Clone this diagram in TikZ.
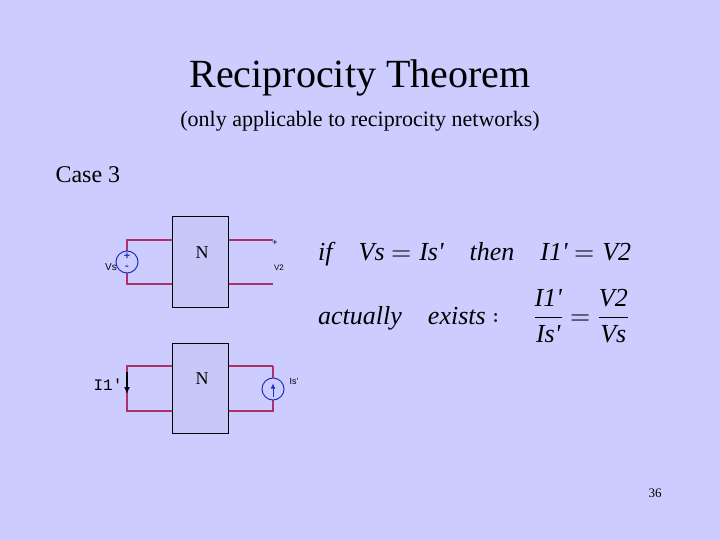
\documentclass[tikz,border=0pt]{standalone}
\usetikzlibrary{arrows.meta}
\usepackage{fontspec}
\setmainfont{Liberation Serif}
\setmonofont{Liberation Mono}
\setsansfont{Liberation Sans}
\newfontfamily\plainit[Ligatures=ResetAll]{Liberation Serif Italic}
\usepackage{unicode-math}
\setmathfont{Latin Modern Math}
\setmathfont[range={it/{latin,Latin},up/{num}}]{Liberation Serif Italic}
\newcommand{\pr}{\mbox{\plainit '}}
\begin{document}
\begin{tikzpicture}[x=1pt,y=-1pt,
  wire/.style={draw=wirec,line width=1.2pt},
  box/.style={draw=black,line width=1pt,fill=boxc},
  src/.style={draw=srcc,line width=1pt,fill=bgc},
  lbl/.style={font=\sffamily\fontsize{9}{10}\selectfont,inner sep=0pt}]
\definecolor{bgc}{HTML}{CCCCFF}
\definecolor{boxc}{HTML}{C8C8F8}
\definecolor{wirec}{HTML}{B0306A}
\definecolor{srcc}{HTML}{2030C0}
\fill[bgc] (0,0) rectangle (720,540);
\useasboundingbox (0,0) rectangle (720,540);
\node (title) at (360,78) {\fontsize{40}{44}\selectfont Reciprocity Theorem};
\node (sub) at (360,121) {\fontsize{22}{26}\selectfont (only applicable to reciprocity networks)};
\node[anchor=west] (case) at (52,175) {\fontsize{24}{28}\selectfont Case 3};
% top circuit
\coordinate (a1) at (127,240); \coordinate (a2) at (127,284);
\coordinate (b1) at (273,240); \coordinate (b2) at (273,284);
\draw[wire] (b1) -- (a1) -- (a2) -- (b2);
\node[box,minimum width=56,minimum height=90,inner sep=0pt] (N1) at (200,262) {};
\node[font=\fontsize{18}{20}\selectfont] (n1) at (202,253) {N};
\node[src,circle,minimum size=22,inner sep=0pt] (vs) at (127,262) {};
\node[font=\sffamily\bfseries\fontsize{11}{11}\selectfont,text=srcc,inner sep=0pt] (vp) at (127,256) {+};
\node[font=\sffamily\bfseries\fontsize{11}{11}\selectfont,text=srcc,inner sep=0pt] (vm) at (127,268) {-};
\node[lbl,font=\sffamily\fontsize{10}{10}\selectfont] (vsl) at (111,267) {Vs};
\node[lbl] (pl) at (275,243) {+};
\node[lbl,font=\sffamily\fontsize{8}{8}\selectfont] (v2) at (279,268) {V2};
% bottom circuit
\coordinate (c1) at (127,366); \coordinate (c2) at (127,411);
\coordinate (d1) at (273,366); \coordinate (d2) at (273,411);
\draw[wire] (d1) -- (c1) -- (c2) -- (d2) -- (d1);
\node[box,minimum width=56,minimum height=90,inner sep=0pt] (N2) at (200,388) {};
\node[font=\fontsize{18}{20}\selectfont] (n2) at (202,379) {N};
\node[src,circle,minimum size=22,inner sep=0pt] (is) at (273,389) {};
\draw[srcc,line width=1pt,-{Latex[length=5pt,width=5pt]}] (is.south) ++(0,-4) -- ++(0,-13);
\node[lbl] (isl) at (294,381) {Is'};
\coordinate (ar1) at (127,372); \coordinate (ar2) at (127,394);
\draw[black,line width=1.5pt,-{Latex[length=7pt,width=6pt]}] (ar1) -- (ar2);
\node[font=\ttfamily\fontsize{16}{18}\selectfont] (i1) at (108,385) {I1'};
% equations
\node[anchor=west,inner sep=0pt] (eq1) at (318,254) {\fontsize{26}{30}\selectfont $if\quad Vs=Is\pr\quad then\quad I1\pr=V2$};
\node[anchor=west,inner sep=0pt] (eq2) at (318,316) {\fontsize{26}{30}\selectfont $actually\quad exists:\quad \dfrac{I1\pr}{Is\pr}=\dfrac{V2}{Vs}$};
\node (pg) at (655,493) {\fontsize{13}{15}\selectfont 36};
\end{tikzpicture}
\end{document}
